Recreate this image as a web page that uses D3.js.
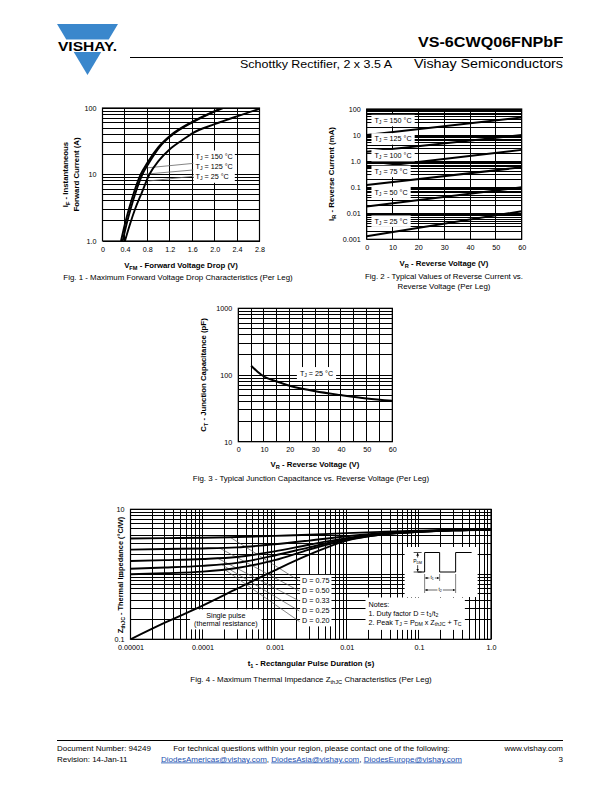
<!DOCTYPE html>
<html><head><meta charset="utf-8">
<script src="https://cdn.jsdelivr.net/npm/d3@7"></script>
<style>body{margin:0;background:#fff}svg{display:block}</style>
</head><body><svg id="page" width="612" height="792"></svg>
<script>
// ---------------- DATA ----------------
// Fig 1: forward voltage (V) vs instantaneous forward current (A)
const fig1Temps = ["150", "125", "25"];
const fig1V150 = [0.33, 0.40, 0.47, 0.58, 0.68, 0.80, 1.00, 1.20, 1.60, 2.00, 2.12];
const fig1I150 = [1, 1.8, 3, 6, 10, 15, 26, 38, 62, 90, 100];
const fig1V125 = [0.36, 0.43, 0.50, 0.61, 0.71, 0.83, 1.02, 1.22, 1.62, 2.02, 2.15];
const fig1I125 = [1, 1.8, 3, 6, 10, 15, 26, 38, 62, 90, 100];
const fig1V25 = [0.40, 0.50, 0.58, 0.70, 0.835, 1.00, 1.20, 1.47, 1.60, 2.00, 2.40, 2.80];
const fig1I25 = [1, 1.9, 3, 5.3, 10, 16, 24, 35, 41.6, 57, 75, 97];
const fig1XTicks = [0, 0.4, 0.8, 1.2, 1.6, 2.0, 2.4, 2.8];
const fig1XLabels = ["0", "0.4", "0.8", "1.2", "1.6", "2.0", "2.4", "2.8"];
const fig1YTicks = [1, 10, 100];
const fig1YLabels = ["1.0", "10", "100"];

// Fig 2: reverse voltage (V) vs reverse current (mA)
const fig2Temps = ["150", "125", "100", "75", "50", "25"];
const fig2V = [0, 60];
const fig2I150 = [10, 47];
const fig2I125 = [2.3, 10];
const fig2I100 = [0.55, 2.7];
const fig2I75 = [0.12, 0.58];
const fig2I50 = [0.018, 0.1];
const fig2I25 = [0.0013, 0.012];
const fig2XTicks = [0, 10, 20, 30, 40, 50, 60];
const fig2YTicks = [0.001, 0.01, 0.1, 1, 10, 100];
const fig2YLabels = ["0.001", "0.01", "0.1", "1.0", "10", "100"];

// Fig 3: reverse voltage (V) vs junction capacitance (pF)
const fig3V = [5, 7.5, 10, 15, 20, 25, 30, 40, 50, 60];
const fig3C = [138, 112, 95, 80, 69, 62, 57, 50, 44.5, 41];
const fig3XTicks = [0, 10, 20, 30, 40, 50, 60];
const fig3YTicks = [10, 100, 1000];

// Fig 4: pulse duration (s) vs thermal impedance (°C/W)
const fig4T = [1e-5, 3e-5, 1e-4, 3e-4, 1e-3, 3e-3, 1e-2, 3e-2, 1e-1, 3e-1, 1];
const fig4D075 = [3.55, 3.6, 3.65, 3.75, 3.9, 4.05, 4.3, 4.5, 4.7, 4.8, 4.85];
const fig4D050 = [2.4, 2.45, 2.5, 2.6, 2.9, 3.3, 3.85, 4.3, 4.6, 4.8, 4.85];
const fig4D033 = [1.6, 1.65, 1.72, 1.85, 2.25, 2.85, 3.6, 4.2, 4.55, 4.75, 4.85];
const fig4D025 = [1.22, 1.27, 1.35, 1.5, 1.95, 2.6, 3.5, 4.15, 4.5, 4.75, 4.85];
const fig4D020 = [1.0, 1.04, 1.1, 1.25, 1.65, 2.4, 3.4, 4.1, 4.5, 4.75, 4.85];
const fig4Single = [0.1, 0.18, 0.33, 0.6, 1.15, 2.0, 3.3, 4.05, 4.5, 4.75, 4.85];
const fig4DLabels = ["D = 0.75", "D = 0.50", "D = 0.33", "D = 0.25", "D = 0.20"];
const fig4XTicks = [1e-5, 1e-4, 1e-3, 1e-2, 1e-1, 1];
const fig4XLabels = ["0.00001", "0.0001", "0.001", "0.01", "0.1", "1.0"];
const fig4YTicks = [0.1, 1, 10];
const fig4YLabels = ["0.1", "1", "10"];

// ---------------- HELPERS ----------------
const FONT = '"Liberation Sans", Arial, Helvetica, sans-serif';
const TICK_FS = 7.2, LAB_FS = 7.2, TITLE_FS = 7.8, CAP_FS = 7.9, FOOT_FS = 8;
const page = d3.select("#page");

function addText(parent, x, y, parts, o = {}) {
  const fs = o.fs || 7;
  const t = parent.append("text").attr("x", x).attr("y", y)
    .attr("font-size", fs).attr("font-family", FONT)
    .attr("text-anchor", o.anchor || "start").attr("fill", o.fill || "#000");
  if (o.bold) t.attr("font-weight", "bold");
  if (o.baseline) t.attr("dominant-baseline", o.baseline);
  if (o.rotate) t.attr("transform", `rotate(-90,${x},${y})`);
  if (o.tl) t.attr("textLength", o.tl).attr("lengthAdjust", "spacingAndGlyphs");
  if (typeof parts === "string") parts = [[parts]];
  let sub = false;
  parts.forEach(([s, m]) => {
    const ts = t.append("tspan").text(s);
    if (m === "sub") {
      ts.attr("font-size", fs * 0.72);
      if (!sub) { ts.attr("dy", fs * 0.28); sub = true; }
    } else if (sub) { ts.attr("dy", -fs * 0.28); sub = false; }
    if (m === "link") ts.attr("fill", "#1a4fb0").attr("text-decoration", "underline");
  });
  return t;
}

function logGrid(lo, hi) {
  const v = [];
  for (let e = Math.round(Math.log10(lo)); e < Math.round(Math.log10(hi)); e++)
    for (let k = 1; k < 10; k++) v.push(k * Math.pow(10, e));
  v.push(hi);
  return v;
}

function whiteBox(parent, nodes, pad) {
  let x0 = 1e9, y0 = 1e9, x1 = -1e9, y1 = -1e9;
  nodes.forEach(n => {
    const b = n.node().getBBox();
    x0 = Math.min(x0, b.x); y0 = Math.min(y0, b.y);
    x1 = Math.max(x1, b.x + b.width); y1 = Math.max(y1, b.y + b.height);
  });
  parent.insert("rect", ":first-child").attr("x", x0 - pad[0]).attr("y", y0 - pad[1])
    .attr("width", x1 - x0 + 2 * pad[0]).attr("height", y1 - y0 + 2 * pad[1]).attr("fill", "#fff");
}

let clipN = 0;
function makePanel(c) {
  const g = page.append("g");
  const x = c.x, y = c.y;
  const [xa, xb] = x.range(), [ya, yb] = y.range();
  const grid = g.append("g").attr("stroke", "#000").attr("stroke-width", 1).attr("shape-rendering", "crispEdges");
  grid.selectAll("line.h").data(c.yGrid).join("line").attr("class", "h")
    .attr("x1", xa).attr("x2", xb).attr("y1", d => y(d)).attr("y2", d => y(d));
  grid.selectAll("line.v").data(c.xGrid).join("line").attr("class", "v")
    .attr("y1", ya).attr("y2", yb).attr("x1", d => x(d)).attr("x2", d => x(d));
  g.append("rect").attr("x", xa).attr("y", yb).attr("width", xb - xa).attr("height", ya - yb)
    .attr("fill", "none").attr("stroke", "#000").attr("stroke-width", 1.2);
  const ax = g.append("g").attr("transform", `translate(0,${ya})`)
    .call(d3.axisBottom(x).tickValues(c.xTicks).tickFormat((d, i) => c.xLabels[i]).tickSize(0).tickPadding(5.5));
  const ay = g.append("g").attr("transform", `translate(${xa},0)`)
    .call(d3.axisLeft(y).tickValues(c.yTicks).tickFormat((d, i) => c.yLabels[i]).tickSize(0).tickPadding(6));
  [ax, ay].forEach(a => {
    a.select(".domain").remove();
    a.selectAll("text").attr("font-size", TICK_FS).attr("font-family", FONT).attr("fill", "#000");
  });
  const id = "clip" + (clipN++);
  g.append("clipPath").attr("id", id).append("rect")
    .attr("x", xa).attr("y", yb).attr("width", xb - xa).attr("height", ya - yb);
  const ann = g.append("g");
  const plot = g.append("g").attr("clip-path", `url(#${id})`);
  const top = g.append("g");
  return { g, ann, plot, top, x, y };
}

// ---------------- HEADER ----------------
{
  const hx = page.append("g");
  const L = 57, R = 118, T = 24, B = 75, M = (L + R) / 2;
  const edge = yy => (yy - T) * ((M - L) / (B - T));
  hx.append("polygon").attr("fill", "#3a87cc")
    .attr("points", [[L, T], [R, T], [R - edge(39.5), 39.5], [L + edge(39.5), 39.5]].join(" "));
  hx.append("polygon").attr("fill", "#3a87cc")
    .attr("points", [[L + edge(52), 52], [R - edge(52), 52], [M, B]].join(" "));
  addText(hx, M, 50.5, "VISHAY.", { fs: 12, bold: true, anchor: "middle", tl: 59 });
  addText(hx, 563, 46.5, "VS-6CWQ06FNPbF", { fs: 15, bold: true, anchor: "end", tl: 145 });
  hx.append("line").attr("x1", 130).attr("x2", 563).attr("y1", 57.5).attr("y2", 57.5)
    .attr("stroke", "#000").attr("stroke-width", 1);
  addText(hx, 240, 67.5, "Schottky Rectifier, 2 x 3.5 A", { fs: 11.2, tl: 152 });
  addText(hx, 563, 67.5, "Vishay Semiconductors", { fs: 12.2, anchor: "end", tl: 149 });
}

// ---------------- FIG 1 ----------------
{
  const x = d3.scaleLinear().domain([0, 2.8]).range([102.5, 259.5]);
  const y = d3.scaleLog().domain([1, 100]).range([241, 108]);
  const p = makePanel({ x, y, xGrid: fig1XTicks, yGrid: logGrid(1, 100),
    xTicks: fig1XTicks, xLabels: fig1XLabels, yTicks: fig1YTicks, yLabels: fig1YLabels });
  const series = [[fig1V150, fig1I150], [fig1V125, fig1I125], [fig1V25, fig1I25]];
  const line = d3.line().x(d => x(d[0])).y(d => y(d[1])).curve(d3.curveMonotoneX);
  const labI = [18.3, 13, 9.2];
  const labs = fig1Temps.map((t, i) => addText(p.ann, x(1.66), y(labI[i]), [["T"], ["J", "sub"], [" = " + t + " °C"]], { fs: LAB_FS, baseline: "middle" }));
  whiteBox(p.ann, labs, [2, 1.5]);
  const leadStart = [[0.80, 12.6], [0.755, 10.1], [0.83, 8.0]];
  const leadEnd = [[1.62, 14.7], [1.62, 11.7], [1.62, 9.4]];
  p.plot.selectAll("line.lead").data(leadStart).join("line").attr("class", "lead")
    .attr("x1", d => x(d[0])).attr("y1", d => y(d[1]))
    .attr("x2", (d, i) => x(leadEnd[i][0])).attr("y2", (d, i) => y(leadEnd[i][1]))
    .attr("stroke", "#666").attr("stroke-width", 0.8);
  p.plot.selectAll("path.c").data(series).join("path").attr("class", "c")
    .attr("d", s => line(s[0].map((v, i) => [v, s[1][i]])))
    .attr("fill", "none").attr("stroke", "#000").attr("stroke-width", 1.9);
  addText(page, 68, 174.5, [["I"], ["F", "sub"], [" - Instantaneous"]], { fs: TITLE_FS, bold: true, anchor: "middle", rotate: true });
  addText(page, 78.5, 174.5, "Forward Current (A)", { fs: TITLE_FS, bold: true, anchor: "middle", rotate: true });
  addText(page, 181, 268, [["V"], ["FM", "sub"], [" - Forward Voltage Drop (V)"]], { fs: TITLE_FS, bold: true, anchor: "middle" });
  addText(page, 178, 280, "Fig. 1 - Maximum Forward Voltage Drop Characteristics (Per Leg)", { fs: CAP_FS, anchor: "middle" });
}

// ---------------- FIG 2 ----------------
{
  const x = d3.scaleLinear().domain([0, 60]).range([366.7, 521.7]);
  const y = d3.scaleLog().domain([0.001, 100]).range([239.3, 109]);
  const p = makePanel({ x, y, xGrid: fig2XTicks, yGrid: logGrid(0.001, 100),
    xTicks: fig2XTicks, xLabels: fig2XTicks.map(String), yTicks: fig2YTicks, yLabels: fig2YLabels });
  const series = [fig2I150, fig2I125, fig2I100, fig2I75, fig2I50, fig2I25];
  p.plot.selectAll("path.c").data(series).join("path").attr("class", "c")
    .attr("d", s => d3.line().x(d => x(d[0])).y(d => y(d[1]))(fig2V.map((v, i) => [v, s[i]])))
    .attr("fill", "none").attr("stroke", "#000").attr("stroke-width", 2);
  const labI = [35, 6.9, 1.57, 0.39, 0.062, 0.0048];
  fig2Temps.forEach((t, i) => {
    const gg = p.top.append("g");
    const tx = addText(gg, x(3), y(labI[i]), [["T"], ["J", "sub"], [" = " + t + " °C"]], { fs: LAB_FS, baseline: "middle" });
    whiteBox(gg, [tx], [3, 1]);
  });
  addText(page, 334, 174, [["I"], ["R", "sub"], [" - Reverse Current (mA)"]], { fs: TITLE_FS, bold: true, anchor: "middle", rotate: true });
  addText(page, 444, 266, [["V"], ["R", "sub"], [" - Reverse Voltage (V)"]], { fs: TITLE_FS, bold: true, anchor: "middle" });
  addText(page, 444, 279, "Fig. 2 - Typical Values of Reverse Current vs.", { fs: CAP_FS, anchor: "middle" });
  addText(page, 444, 289, "Reverse Voltage (Per Leg)", { fs: CAP_FS, anchor: "middle" });
}

// ---------------- FIG 3 ----------------
{
  const x = d3.scaleLinear().domain([0, 60]).range([238.3, 392.3]);
  const y = d3.scaleLog().domain([10, 1000]).range([441.7, 308.3]);
  const xGrid = d3.range(0, 61, 5);
  const p = makePanel({ x, y, xGrid, yGrid: logGrid(10, 1000),
    xTicks: fig3XTicks, xLabels: fig3XTicks.map(String), yTicks: fig3YTicks, yLabels: fig3YTicks.map(String) });
  const tx = addText(p.ann, x(24), y(103), [["T"], ["J", "sub"], [" = 25 °C"]], { fs: LAB_FS, baseline: "middle" });
  whiteBox(p.ann, [tx], [3, 2]);
  p.plot.append("path")
    .attr("d", d3.line().x(d => x(d[0])).y(d => y(d[1])).curve(d3.curveMonotoneX)(fig3V.map((v, i) => [v, fig3C[i]])))
    .attr("fill", "none").attr("stroke", "#000").attr("stroke-width", 2);
  addText(page, 205.5, 375, [["C"], ["T", "sub"], [" - Junction Capacitance (pF)"]], { fs: TITLE_FS, bold: true, anchor: "middle", rotate: true });
  addText(page, 315, 467, [["V"], ["R", "sub"], [" - Reverse Voltage (V)"]], { fs: TITLE_FS, bold: true, anchor: "middle" });
  addText(page, 311, 481, "Fig. 3 - Typical Junction Capacitance vs. Reverse Voltage (Per Leg)", { fs: CAP_FS, anchor: "middle" });
}

// ---------------- FIG 4 ----------------
{
  const x = d3.scaleLog().domain([1e-5, 1]).range([130.5, 491]);
  const y = d3.scaleLog().domain([0.1, 10]).range([639.3, 509.3]);
  const p = makePanel({ x, y, xGrid: logGrid(1e-5, 1), yGrid: logGrid(0.1, 10),
    xTicks: fig4XTicks, xLabels: fig4XLabels, yTicks: fig4YTicks, yLabels: fig4YLabels });
  const dSeries = [fig4D075, fig4D050, fig4D033, fig4D025, fig4D020];
  const line = d3.line().x(d => x(d[0])).y(d => y(d[1])).curve(d3.curveMonotoneX);

  const labZ = [0.789, 0.553, 0.389, 0.272, 0.188];
  const dl = fig4DLabels.map((s, i) => addText(p.ann, x(0.0024), y(labZ[i]), s, { fs: LAB_FS, baseline: "middle" }));
  whiteBox(p.ann, dl, [2, 1]);
  const leadT = [2.4e-4, 1.7e-4, 1.6e-4, 1.8e-4, 2.0e-4];
  p.ann.selectAll("line.lead").data(dSeries).join("line").attr("class", "lead")
    .attr("x1", (s, i) => x(leadT[i]))
    .attr("y1", (s, i) => y(d3.interpolateNumber(s[2], s[3])((Math.log10(leadT[i]) + 4) / Math.log10(3))))
    .attr("x2", x(0.0022)).attr("y2", (s, i) => y(labZ[i]))
    .attr("stroke", "#555").attr("stroke-width", 0.7);

  const s1 = addText(p.ann, x(2.1e-4), y(0.228), "Single pulse", { fs: LAB_FS, anchor: "middle", baseline: "middle" });
  const s2 = addText(p.ann, x(2.1e-4), y(0.172), "(thermal resistance)", { fs: LAB_FS, anchor: "middle", baseline: "middle" });
  whiteBox(p.ann, [s1, s2], [4, 1.5]);

  const n0 = addText(p.ann, x(0.02), y(0.336), "Notes:", { fs: LAB_FS, baseline: "middle" });
  const n1 = addText(p.ann, x(0.02), y(0.245), [["1. Duty factor D = t"], ["1", "sub"], ["/t"], ["2", "sub"]], { fs: LAB_FS, baseline: "middle" });
  const n2 = addText(p.ann, x(0.02), y(0.178), [["2. Peak T"], ["J", "sub"], [" = P"], ["DM", "sub"], [" x Z"], ["thJC", "sub"], [" + T"], ["C", "sub"]], { fs: LAB_FS, baseline: "middle" });
  whiteBox(p.ann, [n0, n1, n2], [3, 2.5]);

  // pulse inset (schematic)
  const ins = p.ann.append("g").attr("transform", `translate(${x(0.0634)},${y(2.63)})`);
  ins.append("rect").attr("x", 0).attr("y", 0).attr("width", 73).attr("height", 50).attr("fill", "#fff");
  const defs = page.append("defs");
  defs.append("marker").attr("id", "arr").attr("viewBox", "0 0 6 6").attr("refX", 6).attr("refY", 3)
    .attr("markerWidth", 4).attr("markerHeight", 4).attr("orient", "auto-start-reverse")
    .append("path").attr("d", "M0,0 L6,3 L0,6 Z").attr("fill", "#000");
  ins.append("path").attr("d", "M13,25 H20 V5.5 H35 V25 H51 V5.5 H67").attr("fill", "none").attr("stroke", "#000").attr("stroke-width", 1);
  ins.append("path").attr("d", "M9,5.5 H17 M9,25 H17").attr("stroke", "#000").attr("stroke-width", 0.7);
  ins.append("line").attr("x1", 13).attr("x2", 13).attr("y1", 6).attr("y2", 24.5).attr("stroke", "#000").attr("stroke-width", 0.7)
    .attr("marker-start", "url(#arr)").attr("marker-end", "url(#arr)");
  const pdm = addText(ins, 13, 14.5, [["P"], ["DM", "sub"]], { fs: 5, anchor: "middle", baseline: "middle" });
  whiteBox(ins.append("g"), [pdm], [0.5, 0.3]);
  ins.node().appendChild(pdm.node());
  ins.append("path").attr("d", "M20,27 V46 M35,27 V34 M51,27 V46").attr("stroke", "#000").attr("stroke-width", 0.5);
  ins.append("line").attr("x1", 20.5).attr("x2", 34.5).attr("y1", 31).attr("y2", 31).attr("stroke", "#000").attr("stroke-width", 0.6)
    .attr("marker-start", "url(#arr)").attr("marker-end", "url(#arr)");
  ins.append("line").attr("x1", 20.5).attr("x2", 50.5).attr("y1", 43).attr("y2", 43).attr("stroke", "#000").attr("stroke-width", 0.6)
    .attr("marker-start", "url(#arr)").attr("marker-end", "url(#arr)");
  const t1 = addText(ins, 27.5, 31, [["t"], ["1", "sub"]], { fs: 5, anchor: "middle", baseline: "middle" });
  const t2 = addText(ins, 35.5, 43, [["t"], ["2", "sub"]], { fs: 5, anchor: "middle", baseline: "middle" });
  [t1, t2].forEach(t => { whiteBox(ins.append("g"), [t], [1, 0.3]); ins.node().appendChild(t.node()); });

  p.plot.selectAll("path.c").data(dSeries.concat([fig4Single])).join("path").attr("class", "c")
    .attr("d", s => line(fig4T.map((t, i) => [t, s[i]])))
    .attr("fill", "none").attr("stroke", "#000").attr("stroke-width", 1.9);

  addText(page, 122.5, 575, [["Z"], ["thJC", "sub"], [" - Thermal Impedance (°C/W)"]], { fs: 7.4, bold: true, anchor: "middle", rotate: true });
  addText(page, 311, 666, [["t"], ["1", "sub"], [" - Rectangular Pulse Duration (s)"]], { fs: TITLE_FS, bold: true, anchor: "middle" });
  addText(page, 311, 682, [["Fig. 4 - Maximum Thermal Impedance Z"], ["thJC", "sub"], [" Characteristics (Per Leg)"]], { fs: CAP_FS, anchor: "middle" });
}

// ---------------- FOOTER ----------------
{
  const f = page.append("g");
  f.append("line").attr("x1", 57).attr("x2", 563).attr("y1", 740.5).attr("y2", 740.5).attr("stroke", "#000").attr("stroke-width", 1);
  addText(f, 57, 750.5, "Document Number: 94249", { fs: FOOT_FS });
  addText(f, 57, 761.5, "Revision: 14-Jan-11", { fs: FOOT_FS });
  addText(f, 311.5, 750.5, "For technical questions within your region, please contact one of the following:", { fs: FOOT_FS, anchor: "middle" });
  addText(f, 311.5, 761.5, [["DiodesAmericas@vishay.com", "link"], [", "], ["DiodesAsia@vishay.com", "link"], [", "], ["DiodesEurope@vishay.com", "link"]], { fs: FOOT_FS, anchor: "middle" });
  addText(f, 563, 750.5, "www.vishay.com", { fs: FOOT_FS, anchor: "end" });
  addText(f, 563, 761.5, "3", { fs: FOOT_FS, anchor: "end" });
}
</script></body></html>
